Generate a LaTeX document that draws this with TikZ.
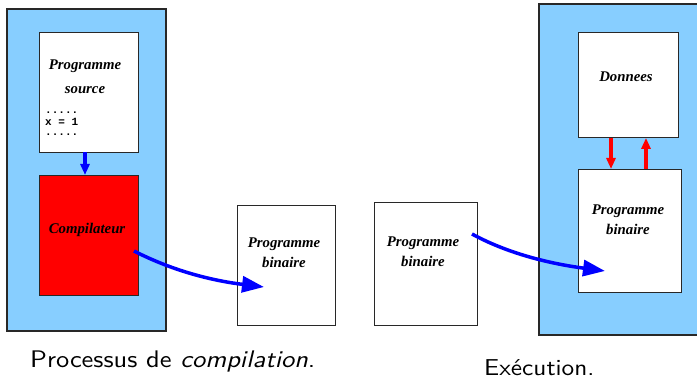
\documentclass[tikz,border=0pt]{standalone}
\usepackage{fontspec}
\setmainfont{Liberation Serif}
\newfontfamily\codefont{Liberation Mono}
\newfontfamily\capfont{lmsans10-regular.otf}[ItalicFont=lmsans10-oblique.otf, FakeStretch=1.1]
\usetikzlibrary{arrows.meta}
\definecolor{ltblue}{RGB}{135,206,255}
\definecolor{boxline}{RGB}{40,40,40}
\tikzset{
  panel/.style={fill=ltblue, draw=boxline, line width=1.2pt},
  wbox/.style={fill=white, draw=boxline, line width=0.9pt},
  lbl/.style={font=\fontsize{14.8}{20}\selectfont\bfseries\itshape, align=center, inner sep=0pt},
  code/.style={font=\fontsize{11}{11}\selectfont\codefont\bfseries, anchor=base west, inner sep=0pt, text depth=0pt},
  captext/.style={font=\fontsize{23}{27}\selectfont\capfont, inner sep=0pt, anchor=base west},
  bigarrow/.style={draw=blue, line width=3.5pt, -{Triangle[length=22pt,width=16pt]}},
  smallblue/.style={draw=blue, line width=3.5pt, -{Triangle[length=11pt,width=9pt]}},
  redarrow/.style={draw=red, line width=3.5pt, -{Triangle[length=11pt,width=9pt]}},
}
\begin{document}
\begin{tikzpicture}[x=1pt,y=-1pt]
\useasboundingbox (0,0) rectangle (697,379);
% left panel
\path[panel] (7,9) rectangle (166,331);
\node[wbox, minimum width=99pt, minimum height=120pt, anchor=north west] (src) at (39,32) {};
\node[draw=boxline, fill=red, line width=0.9pt, minimum width=99pt, minimum height=120pt, anchor=north west] (comp) at (39,175) {};
\node[lbl, font=\fontsize{14.8}{24}\selectfont\bfseries\itshape] (srct) at (85,77) {Programme\\source};
\node[code, text height=1.5pt] (c1) at (45,114) {.....};
\node[code, text height=7pt] (c2) at (45,126) {x = 1};
\node[code, text height=1.5pt] (c3) at (45,135.5) {.....};
\node[lbl] (compt) at (87,230) {Compilateur};
\coordinate (a1) at (85,152);
\coordinate (a2) at (85,175);
\draw[smallblue] (a1) -- (a2);
% middle boxes
\node[wbox, minimum width=98pt, minimum height=120pt, anchor=north west] (bin1) at (237,205) {};
\node[lbl] (bin1t) at (284,253) {Programme\\binaire};
\node[wbox, minimum width=103pt, minimum height=123pt, anchor=north west] (bin2) at (374,202) {};
\node[lbl] (bin2t) at (423,252) {Programme\\binaire};
% right panel
\path[fill=ltblue] (539,4) rectangle (700,335);
\draw[draw=boxline, line width=1.2pt] (700,4) -- (539,4) -- (539,335) -- (700,335);
\node[wbox, minimum width=100pt, minimum height=105pt, anchor=north west] (don) at (578,32) {};
\node[lbl] (dont) at (626,77) {Donnees};
\node[wbox, minimum width=103pt, minimum height=123pt, anchor=north west] (bin3) at (578,169) {};
\node[lbl] (bin3t) at (628,220) {Programme\\binaire};
\draw[redarrow] (don.south -| 611,0) -- (bin3.north -| 611,0);
\draw[redarrow] (bin3.north -| 646,0) -- (don.south -| 646,0);
% curved arrows
\coordinate (s1) at (134,251);
\coordinate (e1) at (264,287);
\coordinate (s2) at (472,234);
\coordinate (e2) at (605,271);
\draw[bigarrow] (s1) .. controls (175,272) and (215,281) .. (e1);
\draw[bigarrow] (s2) .. controls (505,252) and (545,263) .. (e2);
% captions
\node[captext, font=\fontsize{24}{28}\selectfont\capfont] (cap1) at (30,368) {Processus de \textit{compilation}.};
\node[captext] (cap2) at (484,376) {Exécution.};
\end{tikzpicture}
\end{document}
